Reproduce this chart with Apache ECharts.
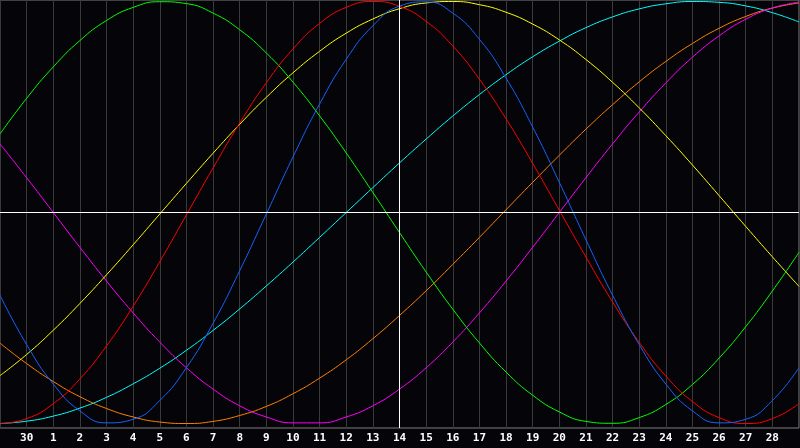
<!DOCTYPE html>
<html>
<head>
<meta charset="utf-8">
<script src="https://cdn.jsdelivr.net/npm/echarts@6/dist/echarts.min.js"></script>
<style>
html,body{margin:0;padding:0;background:#050408;}
#c{width:800px;height:448px;}
</style>
</head>
<body>
<div id="c"></div>
<script>
// Grid positions (0..30) and the day labels written under each gridline
var positions = [0,1,2,3,4,5,6,7,8,9,10,11,12,13,14,15,16,17,18,19,20,21,22,23,24,25,26,27,28,29,30];
var dayLabels = ['', '30','1','2','3','4','5','6','7','8','9','10','11','12','13','14','15','16','17','18','19','20','21','22','23','24','25','26','27','28',''];

var green = [0.372,0.541,0.690,0.815,0.910,0.972,0.999,0.990,0.945,0.866,0.756,0.618,0.458,0.282,0.095,-0.095,-0.282,-0.458,-0.618,-0.756,-0.866,-0.945,-0.990,-0.999,-0.972,-0.910,-0.815,-0.690,-0.541,-0.372,-0.189];
var red = [-1.000,-0.977,-0.906,-0.789,-0.632,-0.444,-0.233,-0.011,0.211,0.424,0.615,0.775,0.896,0.972,1.000,0.977,0.906,0.789,0.632,0.444,0.233,0.011,-0.211,-0.424,-0.615,-0.775,-0.896,-0.972,-1.000,-0.977,-0.906];
var blue = [-0.392,-0.626,-0.813,-0.940,-0.997,-0.980,-0.891,-0.735,-0.525,-0.276,-0.007,0.263,0.514,0.726,0.885,0.978,0.998,0.945,0.821,0.637,0.405,0.143,-0.129,-0.392,-0.626,-0.813,-0.940,-0.997,-0.980,-0.891,-0.735];
var yellow = [-0.773,-0.673,-0.558,-0.431,-0.295,-0.153,-0.007,0.138,0.281,0.418,0.546,0.662,0.764,0.850,0.917,0.966,0.993,1.000,0.985,0.949,0.893,0.818,0.725,0.617,0.496,0.364,0.225,0.080,-0.066,-0.210,-0.350];
var cyan = [-1.000,-0.989,-0.965,-0.927,-0.876,-0.812,-0.738,-0.653,-0.559,-0.457,-0.348,-0.235,-0.118,0.000,0.118,0.235,0.348,0.457,0.559,0.653,0.738,0.812,0.876,0.927,0.965,0.989,1.000,0.996,0.979,0.947,0.903];
var orange = [-0.619,-0.716,-0.801,-0.873,-0.929,-0.969,-0.993,-1.000,-0.990,-0.962,-0.919,-0.859,-0.785,-0.698,-0.598,-0.488,-0.371,-0.246,-0.118,0.013,0.143,0.271,0.395,0.511,0.619,0.716,0.801,0.873,0.929,0.969,0.993];
var magenta = [0.325,0.165,0.000,-0.165,-0.325,-0.476,-0.614,-0.736,-0.837,-0.916,-0.969,-0.997,-0.997,-0.969,-0.916,-0.837,-0.736,-0.614,-0.476,-0.325,-0.165,0.000,0.165,0.325,0.476,0.614,0.736,0.837,0.916,0.969,0.997];

var curves = [
  {name:'cyan', data:cyan, color:'#00ffff'},
  {name:'orange', data:orange, color:'#ff8000'},
  {name:'magenta', data:magenta, color:'#ff00ff'},
  {name:'yellow', data:yellow, color:'#ffff00'},
  {name:'green', data:green, color:'#00ff00'},
  {name:'red', data:red, color:'#ff0000'},
  {name:'blue', data:blue, color:'#1464ff'}
];

function pairs(arr){ return positions.map(function(p,i){ return [p, arr[i]]; }); }

var series = curves.map(function(c){
  return {
    name:c.name, type:'line', data:pairs(c.data), smooth:true, symbol:'none',
    lineStyle:{color:c.color, width:1}, silent:true, animation:false, z:3
  };
});
series.push({
  type:'line', data:[], silent:true, animation:false, z:2,
  markLine:{
    silent:true, symbol:['none','none'], label:{show:false},
    lineStyle:{color:'#ffffff', width:1, type:'solid'},
    data:[{yAxis:0},{xAxis:15}]
  }
});

var chart = echarts.init(document.getElementById('c'));
chart.setOption({
  backgroundColor:'#050408',
  animation:false,
  grid:{left:0, right:1, top:0, bottom:20, show:true, borderColor:'#808080', borderWidth:1, backgroundColor:'#050408'},
  xAxis:{
    type:'value', min:0, max:30, interval:1,
    axisLine:{show:false}, axisTick:{show:false},
    splitLine:{show:true, lineStyle:{color:'#3a3a3a', width:1}},
    axisLabel:{
      show:true, showMinLabel:false, showMaxLabel:false, margin:5,
      color:'#ffffff', fontFamily:'DejaVu Sans Mono', fontWeight:'bold', fontSize:11,
      formatter:function(v){ return dayLabels[Math.round(v)] || ''; }
    }
  },
  yAxis:{
    type:'value', min:-1.0213, max:1.0071,
    axisLine:{show:false}, axisTick:{show:false}, axisLabel:{show:false}, splitLine:{show:false}
  },
  series:series
});
</script>
</body>
</html>
